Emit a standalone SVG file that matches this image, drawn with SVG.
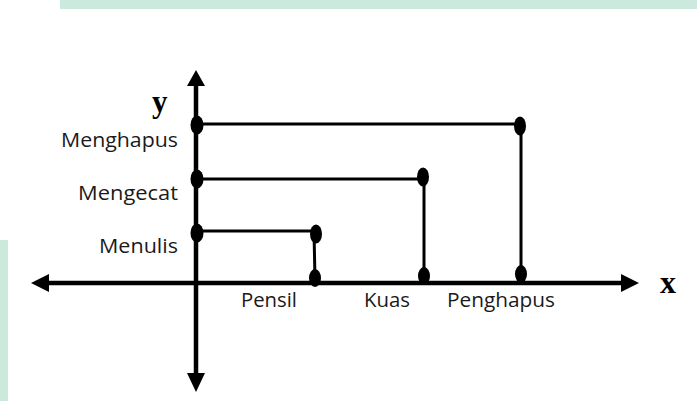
<svg xmlns="http://www.w3.org/2000/svg" width="697" height="401" viewBox="0 0 697 401">
  <defs>
    <style>
      .axis { stroke: #000; stroke-width: 4.5; fill: none; }
      .link { stroke: #000; stroke-width: 3; fill: none; }
      .dot { fill: #000; }
      .head { fill: #000; }
      .lbl { font-family: "Open Sans", "Liberation Sans", sans-serif; font-size: 20px; fill: #1a1a1a; }
      .var { font-family: "Liberation Serif", "Times New Roman", serif; font-weight: bold; fill: #000; }
    </style>
  </defs>

  <!-- page -->
  <rect x="0" y="0" width="697" height="401" fill="#ffffff"/>
  <rect x="60" y="0" width="637" height="9" fill="#cbe9dd"/>
  <rect x="0" y="240" width="8" height="161" fill="#cbe9dd"/>

  <!-- axes -->
  <g id="axes">
    <line class="axis" x1="44" y1="283" x2="626" y2="283"/>
    <polygon class="head" points="31,283 49,274 49,292"/>
    <polygon class="head" points="639,283 621,274 621,292"/>
    <line class="axis" x1="196" y1="82" x2="196" y2="377"/>
    <polygon class="head" points="196,70 187,86 205,86"/>
    <polygon class="head" points="196,392 187,373 205,373"/>
    <text class="var" x="152" y="112" font-size="31">y</text>
    <text class="var" x="660" y="293" font-size="32">x</text>
  </g>

  <!-- connectors -->
  <g id="connectors">
    <polyline class="link" points="196,124 521,124 521,276"/>
    <polyline class="link" points="196,179 424,179 424,280"/>
    <polyline class="link" points="196,231 314,231 315,280"/>
  </g>

  <!-- y-axis nodes -->
  <g id="node-menghapus">
    <ellipse class="dot" cx="197" cy="125" rx="6.5" ry="9.5"/>
    <text class="lbl" x="178" y="147" text-anchor="end" textLength="117" lengthAdjust="spacingAndGlyphs">Menghapus</text>
  </g>
  <g id="node-mengecat">
    <ellipse class="dot" cx="197" cy="179" rx="6.5" ry="9.5"/>
    <text class="lbl" x="178" y="200" text-anchor="end" textLength="100" lengthAdjust="spacingAndGlyphs">Mengecat</text>
  </g>
  <g id="node-menulis">
    <ellipse class="dot" cx="197" cy="233" rx="6.5" ry="9.5"/>
    <text class="lbl" x="178" y="253" text-anchor="end" textLength="79" lengthAdjust="spacingAndGlyphs">Menulis</text>
  </g>

  <!-- corner points -->
  <g id="node-menghapus-end">
    <ellipse class="dot" cx="520" cy="126" rx="6" ry="9.5"/>
  </g>
  <g id="node-mengecat-end">
    <ellipse class="dot" cx="423" cy="177" rx="6" ry="9.5"/>
  </g>
  <g id="node-menulis-end">
    <ellipse class="dot" cx="316" cy="234" rx="6" ry="9.5"/>
  </g>

  <!-- x-axis nodes -->
  <g id="node-pensil">
    <ellipse class="dot" cx="315" cy="278" rx="6" ry="9"/>
    <text class="lbl" x="241" y="307" textLength="56" lengthAdjust="spacingAndGlyphs">Pensil</text>
  </g>
  <g id="node-kuas">
    <ellipse class="dot" cx="424" cy="276" rx="6" ry="9"/>
    <text class="lbl" x="364" y="307" textLength="46" lengthAdjust="spacingAndGlyphs">Kuas</text>
  </g>
  <g id="node-penghapus">
    <ellipse class="dot" cx="521" cy="274" rx="6" ry="9"/>
    <text class="lbl" x="447" y="307" textLength="108" lengthAdjust="spacingAndGlyphs">Penghapus</text>
  </g>
</svg>
